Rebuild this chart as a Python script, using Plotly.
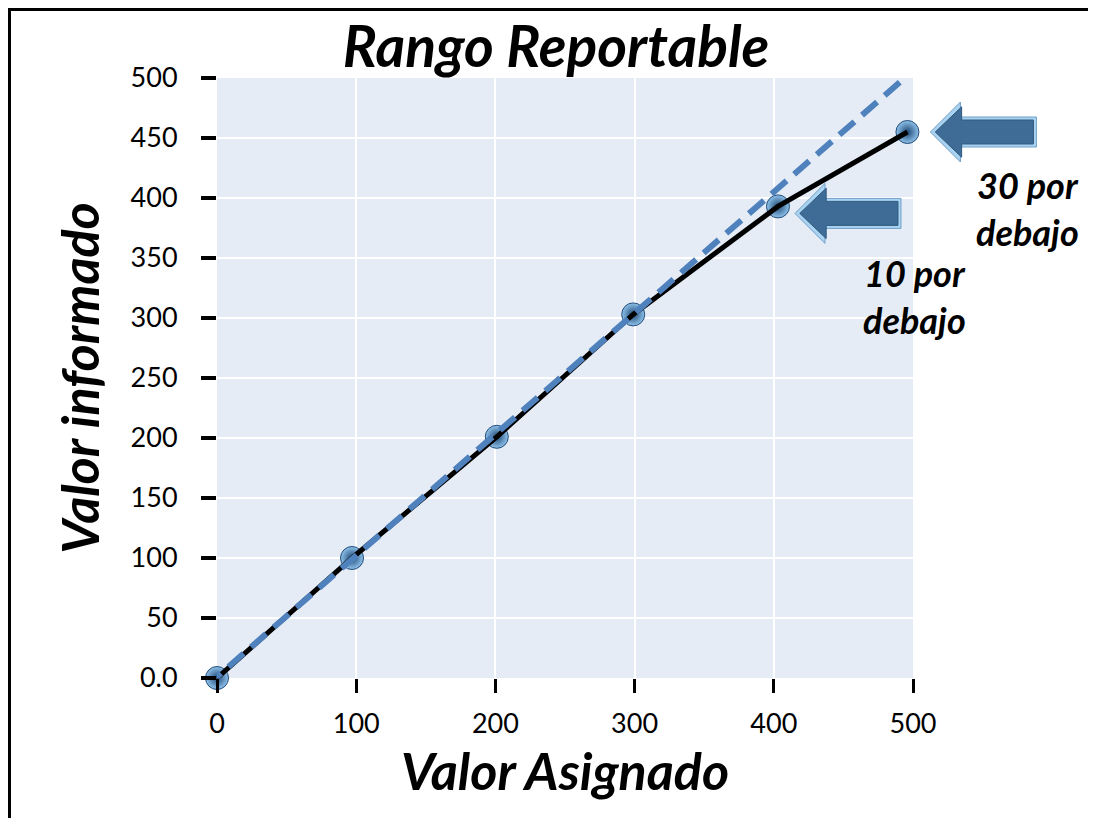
import plotly.graph_objects as go

# datos
valor_asignado = [0, 97, 201, 299, 403, 496]
valor_informado = [0, 100, 201, 303, 393, 455]

ideal_x = [-8, 494]
ideal_y = [-7, 500]

y_ticks = [0, 50, 100, 150, 200, 250, 300, 350, 400, 450, 500]
y_ticktext = ["0.0", "50", "100", "150", "200", "250", "300", "350", "400", "450", "500"]
x_ticks = [0, 100, 200, 300, 400, 500]

notas = ["10 por<br>debajo", "30 por<br>debajo"]

W, H = 1096, 818
OFF = 8  # margen del body de la pagina
# area de trazado en coordenadas de pagina
L, T, PW, PH = 217, 78, 696, 600
FONT = "Lato"

def to_px(x, y):
    return L + x / 500 * PW, T + PH - y / 500 * PH

def px_to_dom(px, py):
    return (px - L) / PW, (T + PH - py) / PH

def arrow_path(tx, ty, inset=0):
    # flecha apuntando a la izquierda, punta en (tx, ty) en pixeles
    hl, hh, sh, ln = 30, 30, 15, 106
    pts = [
        (tx + inset * 1.6, ty),
        (tx + hl + inset * 0.4, ty - hh + inset * 1.6),
        (tx + hl + inset * 0.4, ty - sh + inset),
        (tx + ln - inset, ty - sh + inset),
        (tx + ln - inset, ty + sh - inset),
        (tx + hl + inset * 0.4, ty + sh - inset),
        (tx + hl + inset * 0.4, ty + hh - inset * 1.6),
    ]
    d = []
    for i, (px, py) in enumerate(pts):
        fx, fy = px_to_dom(px, py)
        d.append(("M" if i == 0 else "L") + f"{fx:.5f},{fy:.5f}")
    return " ".join(d) + " Z"

fig = go.Figure()

# esferas
fig.add_trace(go.Scatter(
    x=valor_asignado, y=valor_informado,
    mode="markers",
    marker=dict(size=23, color="#8fc3ec",
                gradient=dict(type="radial", color="#1f4874"),
                line=dict(width=1, color="#234c78")),
    cliponaxis=False,
    showlegend=False,
))

fig.add_trace(go.Scatter(
    x=valor_asignado, y=valor_informado,
    mode="lines",
    line=dict(color="black", width=5),
    cliponaxis=False,
    showlegend=False,
))

fig.add_trace(go.Scatter(
    x=ideal_x, y=ideal_y,
    mode="lines",
    line=dict(color="#4f81bd", width=6, dash="20px,10px"),
    cliponaxis=False,
    showlegend=False,
))

shapes = []
# flechas junto a los dos ultimos puntos
offsets = [(17, 7), (23, 0)]
for i, (dx, dy) in zip([4, 5], offsets):
    px, py = to_px(valor_asignado[i], valor_informado[i])
    tx, ty = px + dx, py + dy
    shapes.append(dict(type="path", xref="x domain", yref="y domain",
                       path=arrow_path(tx, ty), fillcolor="#a9d3f0",
                       line=dict(color="#6f9fc8", width=1), layer="above"))
    shapes.append(dict(type="path", xref="x domain", yref="y domain",
                       path=arrow_path(tx, ty, inset=3), fillcolor="#3e6c96",
                       line=dict(color="#2f5a82", width=1), layer="above"))

# marco negro (izquierda y arriba)
bx0, by0 = px_to_dom(9.5, H + 20)
bx1, by1 = px_to_dom(9.5, 9.5)
bx2, by2 = px_to_dom(W + 20, 9.5)
shapes.append(dict(type="path", xref="paper", yref="paper",
                   path=f"M{bx0},{by0} L{bx1},{by1} L{bx2},{by2}",
                   line=dict(color="black", width=3)))

annotations = []
label_pos = [(914, 296), (1028, 208)]
for txt, (lx, ly) in zip(notas, label_pos):
    fx, fy = px_to_dom(lx, ly)
    annotations.append(dict(text=f"<b><i>{txt}</i></b>", xref="x domain", yref="y domain",
                            x=fx, y=fy, xanchor="center", yanchor="middle",
                            showarrow=False, align="center",
                            font=dict(family=FONT, size=36, color="black")))

fig.update_layout(
    width=W, height=H,
    margin=dict(l=L - OFF, r=W - L - PW + OFF, t=T - OFF, b=H - T - PH + OFF),
    paper_bgcolor="white",
    plot_bgcolor="#E5ECF6",
    title=dict(text="<b><i>Rango Reportable</i></b>", x=0.5, xanchor="center",
               y=1 - (47 - OFF) / H, yanchor="middle",
               font=dict(family=FONT, size=57, color="black")),
    shapes=shapes,
    annotations=annotations,
    font=dict(family=FONT, color="black"),
)

fig.update_xaxes(
    range=[0, 500], tickvals=x_ticks, showgrid=True, gridcolor="white", gridwidth=2,
    zeroline=False, showline=False,
    ticks="outside", ticklen=14, tickwidth=3, tickcolor="black",
    ticklabelstandoff=8,
    tickfont=dict(family=FONT, size=27, color="black"),
    title=dict(text="<b><i>Valor Asignado</i></b>", standoff=14,
               font=dict(family=FONT, size=52, color="black")),
    automargin=False,
)
fig.update_yaxes(
    range=[0, 500], tickvals=y_ticks, ticktext=y_ticktext,
    showgrid=True, gridcolor="white", gridwidth=2,
    zeroline=False, showline=False,
    ticks="outside", ticklen=15, tickwidth=4, tickcolor="black",
    ticklabelstandoff=18,
    tickfont=dict(family=FONT, size=27, color="black"),
    title=dict(text="<b><i>Valor informado</i></b>", standoff=14,
               font=dict(family=FONT, size=52, color="black")),
    automargin=False,
)

fig.write_html("out.html")
